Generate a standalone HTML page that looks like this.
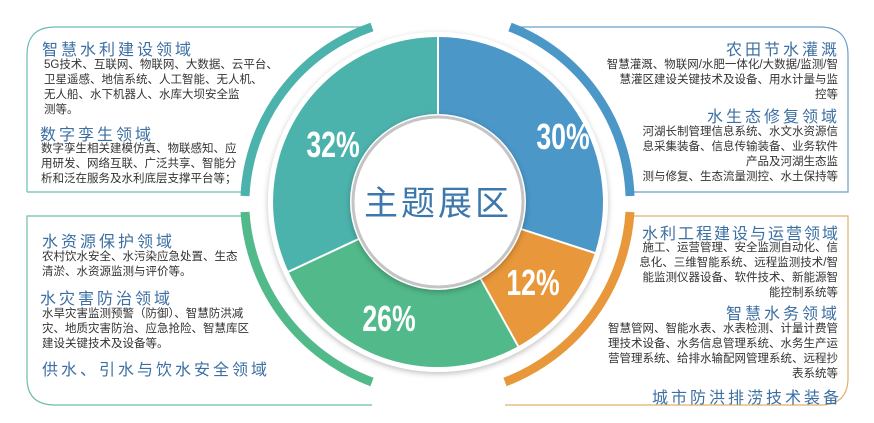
<!DOCTYPE html>
<html><head><meta charset="utf-8"><style>
html,body{margin:0;padding:0;background:#fff;}
body{width:874px;height:423px;overflow:hidden;position:relative;font-family:"Liberation Sans","Noto Sans CJK SC",sans-serif;}
.t{position:absolute;color:#3c6fa3;font-size:16px;letter-spacing:3px;white-space:nowrap;}
.p{position:absolute;color:#333;font-size:11.5px;line-height:15px;}
.r{text-align:right;}
</style></head><body>
<svg width="874" height="423" style="position:absolute;left:0;top:0">
<defs><filter id="sh" x="-20%" y="-20%" width="140%" height="140%"><feDropShadow dx="0" dy="2" stdDeviation="3" flood-color="#000" flood-opacity="0.25"/></filter></defs>
<path d="M27,192 L245,192 M27,192 L27,55 Q27,27 55,27 L372,27" fill="none" stroke="#6bbab5" stroke-width="1.2"/>
<path d="M630,192 L848,192 L848,55 Q848,27 820,27 L510,27" fill="none" stroke="#6b9fc8" stroke-width="1.2"/>
<path d="M245,216 L27,216 L27,378 Q27,405 55,405 L372,405" fill="none" stroke="#6bbf9b" stroke-width="1.2"/>
<path d="M625,216 L848,216 L848,378 Q848,405 820,405 L505,405" fill="none" stroke="#e0b070" stroke-width="1.2"/>
<path d="M372,27 A188,188 0 0 0 245,196" fill="none" stroke="#4cb2ac" stroke-width="9"/>
<path d="M510,27 A188,188 0 0 1 630,196" fill="none" stroke="#4a97c8" stroke-width="9"/>
<path d="M245,212 A195,195 0 0 0 372,382" fill="none" stroke="#52b98a" stroke-width="9"/>
<path d="M630,212 A195,195 0 0 1 505,382" fill="none" stroke="#e8973a" stroke-width="9"/>
<g filter="url(#sh)"><circle cx="438" cy="202" r="170" fill="#fff"/></g>
<path d="M438,202 L438,37 A165,165 0 0 1 594.9,253 Z" fill="#4a97c8"/>
<path d="M438,202 L594.9,253 A165,165 0 0 1 518.2,346.3 Z" fill="#e8973a"/>
<path d="M438,202 L518.2,346.3 A165,165 0 0 1 288.5,271.7 Z" fill="#52b98a"/>
<path d="M438,202 L288.5,271.7 A165,165 0 0 1 438,37 Z" fill="#4cb2ac"/>
<g stroke="#fff" stroke-width="2"><line x1="438" y1="202" x2="438" y2="37"/><line x1="438" y1="202" x2="594.9" y2="253"/><line x1="438" y1="202" x2="518.2" y2="346.3"/><line x1="438" y1="202" x2="288.5" y2="271.7"/></g>
<circle cx="438" cy="202" r="88" fill="#fff" filter="url(#sh)"/>
<circle cx="438" cy="202" r="85" fill="#fff" stroke="#c4c4c4" stroke-width="3"/>
<g font-family="'Liberation Sans',sans-serif" font-weight="bold" fill="#fff" font-size="36" text-anchor="middle">
<text transform="translate(333,157) scale(0.74,1)">32%</text>
<text transform="translate(563,149) scale(0.74,1)">30%</text>
<text transform="translate(533,295) scale(0.74,1)">12%</text>
<text transform="translate(389,331) scale(0.74,1)">26%</text>
</g>
<text x="438" y="215" text-anchor="middle" font-family="'Liberation Sans','Noto Sans CJK SC',sans-serif" font-size="34" fill="#3c78ad" letter-spacing="3">主题展区</text>
</svg>

<div class="t" style="left:42px;top:36px;">智慧水利建设领域</div>
<div class="p" style="left:44px;top:58px;">5G技术、互联网、物联网、大数据、云平台、<br>卫星遥感、地信系统、人工智能、无人机、<br>无人船、水下机器人、水库大坝安全监<br>测等。</div>
<div class="t" style="left:40px;top:121px;">数字孪生领域</div>
<div class="p" style="left:41px;top:142px;">数字孪生相关建模仿真、物联感知、应<br>用研发、网络互联、广泛共享、智能分<br>析和泛在服务及水利底层支撑平台等；</div>

<div class="t r" style="right:34px;top:36px;">农田节水灌溉</div>
<div class="p r" style="right:36px;top:58px;">智慧灌溉、物联网/水肥一体化/大数据/监测/智<br>慧灌区建设关键技术及设备、用水计量与监<br>控等</div>
<div class="t r" style="right:34px;top:103px;">水生态修复领域</div>
<div class="p r" style="right:36px;top:125px;">河湖长制管理信息系统、水文水资源信<br>息采集装备、信息传输装备、业务软件<br>产品及河湖生态监<br>测与修复、生态流量测控、水土保持等</div>

<div class="t" style="left:42px;top:228px;">水资源保护领域</div>
<div class="p" style="left:42px;top:250px;">农村饮水安全、水污染应急处置、生态<br>清淤、水资源监测与评价等。</div>
<div class="t" style="left:40px;top:285px;">水灾害防治领域</div>
<div class="p" style="left:42px;top:307px;">水旱灾害监测预警（防御）、智慧防洪减<br>灾、地质灾害防治、应急抢险、智慧库区<br>建设关键技术及设备等。</div>
<div class="t" style="left:42px;top:356px;">供水、引水与饮水安全领域</div>

<div class="t r" style="right:34px;top:220px;letter-spacing:2px;">水利工程建设与运营领域</div>
<div class="p r" style="right:36px;top:241px;">施工、运营管理、安全监测自动化、信<br>息化、三维智能系统、远程监测技术/智<br>能监测仪器设备、软件技术、新能源智<br>能控制系统等</div>
<div class="t r" style="right:34px;top:300px;">智慧水务领域</div>
<div class="p r" style="right:36px;top:322px;">智慧管网、智能水表、水表检测、计量计费管<br>理技术设备、水务信息管理系统、水务生产运<br>营管理系统、给排水输配网管理系统、远程抄<br>表系统等</div>
<div class="t r" style="right:32px;top:384px;">城市防洪排涝技术装备</div>
</body></html>
